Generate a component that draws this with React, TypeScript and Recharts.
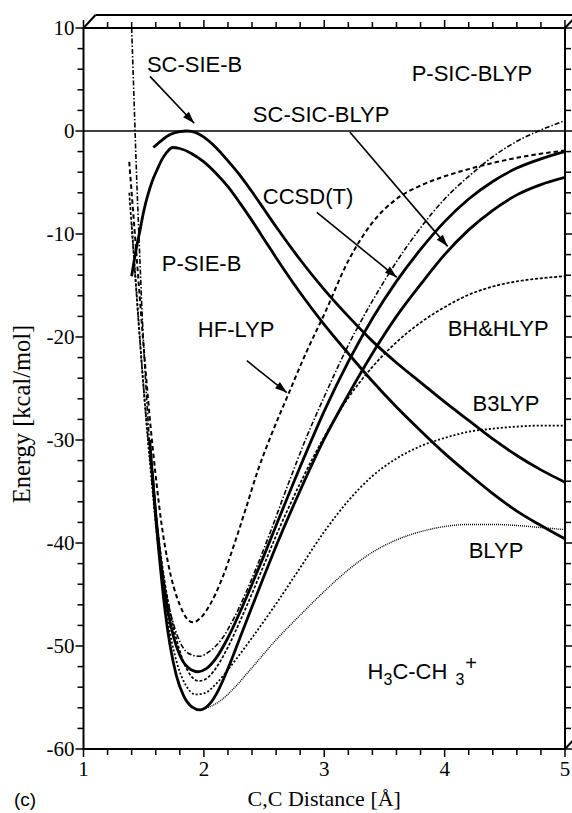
import React from 'react';
import { ComposedChart, Line, XAxis, YAxis, ReferenceLine, Scatter } from 'recharts';

type Pt = [number, number];

// Potential energy curves: [C,C distance (Å), energy (kcal/mol)]
const scSieB: Pt[] = [
  [1.58, -1.6], [1.65, -0.9], [1.72, -0.35], [1.8, -0.05], [1.86, 0], [1.93, -0.15], [2.0, -0.6],
  [2.1, -1.6], [2.2, -2.9], [2.3, -4.3], [2.4, -5.9], [2.5, -7.6], [2.6, -9.3], [2.8, -12.5],
  [3.0, -15.4], [3.2, -18.0], [3.4, -20.4], [3.6, -22.5], [3.8, -24.4], [4.0, -26.3], [4.2, -28.1],
  [4.4, -29.9], [4.6, -31.5], [4.8, -32.9], [5.0, -34.1],
];

const pSieB: Pt[] = [
  [1.4, -14.1], [1.44, -11.3], [1.47, -9.6], [1.5, -7.8], [1.53, -6.4], [1.57, -4.9], [1.61, -3.8],
  [1.65, -2.8], [1.69, -2.1], [1.74, -1.6], [1.8, -1.7], [1.9, -2.2], [2.0, -3.0], [2.1, -4.1],
  [2.2, -5.4], [2.3, -7.0], [2.4, -8.7], [2.5, -10.5], [2.6, -12.3], [2.8, -15.7], [3.0, -18.8],
  [3.2, -21.6], [3.4, -24.3], [3.6, -26.8], [3.8, -29.1], [4.0, -31.3], [4.2, -33.3], [4.4, -35.2],
  [4.6, -36.9], [4.8, -38.3], [5.0, -39.6],
];

const ccsdT: Pt[] = [
  [1.55, -30], [1.58, -34.5], [1.62, -39.5], [1.66, -43.5], [1.7, -46.5], [1.75, -49.2], [1.8, -50.9],
  [1.87, -52.1], [1.95, -52.5], [2.02, -52.2], [2.1, -51.2], [2.2, -49.2], [2.3, -46.7], [2.4, -44.0],
  [2.5, -41.2], [2.6, -38.3], [2.8, -32.6], [3.0, -27.2], [3.2, -22.4], [3.4, -18.2], [3.6, -14.6],
  [3.8, -11.5], [4.0, -8.8], [4.2, -6.6], [4.4, -4.9], [4.6, -3.6], [4.8, -2.7], [5.0, -2.0],
];

const scSicBlyp: Pt[] = [
  [1.57, -33], [1.6, -37.5], [1.64, -42.5], [1.68, -46.8], [1.72, -50], [1.77, -52.8], [1.83, -54.8],
  [1.9, -55.9], [1.97, -56.2], [2.05, -55.6], [2.12, -54.3], [2.2, -52.2], [2.3, -49.2], [2.4, -46.2],
  [2.5, -43.2], [2.6, -40.3], [2.8, -34.9], [3.0, -29.9], [3.2, -25.6], [3.4, -21.6], [3.6, -18.0],
  [3.8, -14.9], [4.0, -12.0], [4.2, -9.6], [4.4, -7.7], [4.6, -6.2], [4.8, -5.2], [5.0, -4.5],
];

const pSicBlyp: Pt[] = [
  [1.4, 10], [1.42, 3], [1.44, -4], [1.46, -10], [1.49, -18.5], [1.53, -27], [1.58, -35], [1.64, -41.5],
  [1.7, -45.6], [1.78, -49], [1.87, -50.7], [1.96, -51], [2.05, -50.5], [2.15, -49.3], [2.25, -47.3],
  [2.35, -44.8], [2.45, -42], [2.55, -39], [2.7, -34.3], [2.85, -29.8], [3.0, -25.8], [3.2, -20.8],
  [3.4, -16.5], [3.6, -12.7], [3.8, -9.4], [4.0, -6.6], [4.2, -4.4], [4.4, -2.5], [4.6, -1.0],
  [4.8, 0.1], [5.0, 1.0],
];

const hfLyp: Pt[] = [
  [1.38, -3], [1.42, -9], [1.46, -15], [1.5, -21], [1.55, -27.8], [1.6, -33.5], [1.65, -38.3],
  [1.7, -41.8], [1.75, -44.3], [1.8, -46], [1.85, -47.2], [1.91, -47.7], [1.97, -47.3], [2.05, -46],
  [2.15, -43.5], [2.25, -40.2], [2.35, -36.6], [2.45, -32.9], [2.55, -29.8], [2.7, -25.6],
  [2.85, -21.5], [3.0, -17.8], [3.2, -12.6], [3.4, -8.9], [3.6, -6.6], [3.8, -5.3], [4.0, -4.4],
  [4.2, -3.7], [4.4, -3.1], [4.6, -2.6], [4.8, -2.2], [5.0, -1.9],
];

const bhhLyp: Pt[] = [
  [1.38, -6], [1.42, -12.5], [1.46, -19], [1.5, -25], [1.55, -31.5], [1.6, -37], [1.65, -41.8],
  [1.7, -45.5], [1.76, -48.8], [1.83, -51.5], [1.9, -53], [1.96, -53.4], [2.04, -53], [2.12, -51.8],
  [2.2, -50.1], [2.3, -47.6], [2.4, -44.9], [2.5, -42.1], [2.6, -39.3], [2.8, -34.2], [3.0, -29.7],
  [3.2, -25.9], [3.4, -22.9], [3.6, -20.5], [3.8, -18.6], [4.0, -17.1], [4.2, -15.9], [4.4, -15.1],
  [4.6, -14.6], [4.8, -14.3], [5.0, -14.1],
];

const b3Lyp: Pt[] = [
  [1.4, -9], [1.44, -15.5], [1.48, -22], [1.52, -28], [1.57, -34.5], [1.62, -40.3], [1.67, -45],
  [1.72, -48.8], [1.78, -51.8], [1.85, -53.8], [1.93, -54.7], [2.0, -54.6], [2.1, -53.7], [2.2, -52.3],
  [2.4, -49.2], [2.6, -45.9], [2.8, -42.4], [3.0, -38.9], [3.2, -35.9], [3.4, -33.5], [3.6, -31.8],
  [3.8, -30.6], [4.0, -29.8], [4.2, -29.2], [4.4, -28.9], [4.6, -28.7], [4.8, -28.6], [5.0, -28.6],
];

const bLyp: Pt[] = [
  [1.97, -56.2], [2.05, -55.9], [2.15, -55.2], [2.25, -54.1], [2.4, -52.1], [2.6, -49.4], [2.8, -47.0],
  [3.0, -44.7], [3.2, -42.6], [3.4, -40.9], [3.6, -39.7], [3.8, -38.9], [4.0, -38.4], [4.2, -38.2],
  [4.4, -38.2], [4.6, -38.3], [4.8, -38.5], [5.0, -38.7],
];

// Axis ticks
const xTicks = [1, 1.2, 1.4, 1.6, 1.8, 2, 2.2, 2.4, 2.6, 2.8, 3, 3.2, 3.4, 3.6, 3.8, 4, 4.2, 4.4, 4.6, 4.8, 5];
const yTicks = [
  -60, -58, -56, -54, -52, -50, -48, -46, -44, -42, -40, -38, -36, -34, -32, -30, -28, -26, -24, -22,
  -20, -18, -16, -14, -12, -10, -8, -6, -4, -2, 0, 2, 4, 6, 8, 10,
];

// Curve labels, anchored at their left baseline in data units
const curveLabels = [
  { x: 1.527, e: 5.73, text: 'SC-SIE-B' },
  { x: 3.726, e: 4.85, text: 'P-SIC-BLYP' },
  { x: 2.407, e: 0.87, text: 'SC-SIC-BLYP' },
  { x: 2.49, e: -7.1, text: 'CCSD(T)' },
  { x: 1.651, e: -13.6, text: 'P-SIE-B' },
  { x: 1.95, e: -20.0, text: 'HF-LYP' },
  { x: 4.025, e: -19.9, text: 'BH&HLYP' },
  { x: 4.232, e: -27.2, text: 'B3LYP' },
  { x: 4.2, e: -41.5, text: 'BLYP' },
  { x: 3.36, e: -53.2, text: 'H3C-CH3+' },
];

// Pointer arrows: [tail, head]
const arrowSCSIEB: Pt[] = [[1.552, 5.3], [1.92, 0.75]];
const arrowSCSIC: Pt[] = [[3.212, -0.1], [4.025, -11.2]];
const arrowCCSD: Pt[] = [[2.938, -7.9], [3.602, -14.2]];
const arrowHFLYP: Pt[] = [[2.357, -22.3], [2.689, -25.4]];

const toRows = (pts: Pt[]) => pts.map(([x, e]) => ({ x, e }));

const W = 572;
const H = 813;
const MARGIN = { top: 28, right: 7, bottom: 24, left: 23.5 };
const Y_AXIS_W = 60;
const X_AXIS_H = 40;
const PLOT_L = MARGIN.left + Y_AXIS_W;
const PLOT_R = W - MARGIN.right;
const PLOT_T = MARGIN.top;
const PLOT_B = H - MARGIN.bottom - X_AXIS_H;
const DEPTH_X = 12;
const DEPTH_Y = 13;
const MAJOR_LEN = 8;
const MINOR_LEN = 6;

const SANS = '"Liberation Sans", Arial, Helvetica, sans-serif';
const SERIF = '"Liberation Serif", "Times New Roman", Times, serif';

const series = [
  { key: 'scSieB', pts: scSieB, width: 2.8, dash: undefined as string | undefined },
  { key: 'pSieB', pts: pSieB, width: 2.8, dash: undefined },
  { key: 'ccsdT', pts: ccsdT, width: 2.8, dash: undefined },
  { key: 'scSicBlyp', pts: scSicBlyp, width: 2.8, dash: undefined },
  { key: 'pSicBlyp', pts: pSicBlyp, width: 1.6, dash: '5 2 1.5 2' },
  { key: 'hfLyp', pts: hfLyp, width: 2, dash: '4.5 3' },
  { key: 'bhhLyp', pts: bhhLyp, width: 1.7, dash: '3 1.8' },
  { key: 'b3Lyp', pts: b3Lyp, width: 1.8, dash: '2 2' },
  { key: 'bLyp', pts: bLyp, width: 1.4, dash: '1 1' },
];

const arrows = [arrowSCSIEB, arrowSCSIC, arrowCCSD, arrowHFLYP];

// Bottom tick: outward tick marks on the bottom and top frame edges, label for whole numbers
const XTick = (props: any) => {
  const { x, payload } = props;
  const v = payload.value;
  const major = Math.abs(v - Math.round(v)) < 1e-6;
  const len = major ? MAJOR_LEN : MINOR_LEN;
  return (
    <g>
      <line x1={x} y1={PLOT_B} x2={x} y2={PLOT_B + len} stroke="#000" strokeWidth={1.5} />
      <line x1={x} y1={PLOT_T} x2={x} y2={PLOT_T - len} stroke="#000" strokeWidth={1.5} />
      {major && (
        <text x={x} y={PLOT_B + 27} textAnchor="middle" fontFamily={SERIF} fontSize={21} fill="#000">
          {Math.round(v)}
        </text>
      )}
    </g>
  );
};

// Left tick: outward tick marks on the left and right frame edges, label every 10
const YTick = (props: any) => {
  const { y, payload } = props;
  const v = payload.value;
  const major = v % 10 === 0;
  const len = major ? MAJOR_LEN : MINOR_LEN;
  return (
    <g>
      <line x1={PLOT_L} y1={y} x2={PLOT_L - len} y2={y} stroke="#000" strokeWidth={1.5} />
      <line x1={PLOT_R} y1={y} x2={PLOT_R + len} y2={y} stroke="#000" strokeWidth={1.5} />
      {major && (
        <text x={PLOT_L - 9} y={y} dy={7} textAnchor="end" fontFamily={SERIF} fontSize={21} fill="#000">
          {v}
        </text>
      )}
    </g>
  );
};

const LabelShape = (props: any) => {
  const { cx, cy, payload } = props;
  if (payload.text === 'H3C-CH3+') {
    return (
      <text x={cx} y={cy} fontFamily={SANS} fontSize={22} fill="#000">
        <tspan>H</tspan>
        <tspan dy={6} fontSize={16}>3</tspan>
        <tspan dy={-6}>C-CH</tspan>
        <tspan dx={8} dy={6} fontSize={16}>3</tspan>
        <tspan dx={1} dy={-15} fontSize={20}>+</tspan>
      </text>
    );
  }
  return (
    <text x={cx} y={cy} fontFamily={SANS} fontSize={22} fill="#000">
      {payload.text}
    </text>
  );
};

export default function App() {
  return (
    <div style={{ position: 'absolute', left: 0, top: 0, width: W, height: H, background: '#fff' }}>
      <ComposedChart width={W} height={H} margin={MARGIN}>
        <defs>
          <marker
            id="arrowHead"
            viewBox="0 0 12 8"
            refX="12"
            refY="4"
            markerWidth="13"
            markerHeight="8"
            markerUnits="userSpaceOnUse"
            orient="auto"
          >
            <path d="M0,0 L12,4 L0,8 z" fill="#000" />
          </marker>
        </defs>

        <XAxis
          type="number"
          dataKey="x"
          domain={[1, 5]}
          ticks={xTicks}
          interval={0}
          allowDataOverflow
          height={X_AXIS_H}
          axisLine={false}
          tickLine={false}
          tick={<XTick />}
        />
        <YAxis
          type="number"
          domain={[-60, 10]}
          ticks={yTicks}
          interval={0}
          allowDataOverflow
          width={Y_AXIS_W}
          axisLine={false}
          tickLine={false}
          tick={<YTick />}
        />

        {/* plot frame and receding box edges */}
        <g stroke="#000" strokeWidth={2} fill="none">
          <rect x={PLOT_L} y={PLOT_T} width={PLOT_R - PLOT_L} height={PLOT_B - PLOT_T} />
          <line x1={PLOT_L} y1={PLOT_T} x2={PLOT_L + DEPTH_X} y2={PLOT_T - DEPTH_Y} />
          <line x1={PLOT_L + DEPTH_X} y1={PLOT_T - DEPTH_Y} x2={PLOT_R + DEPTH_X} y2={PLOT_T - DEPTH_Y} />
          <line x1={PLOT_R} y1={PLOT_T} x2={PLOT_R + DEPTH_X} y2={PLOT_T - DEPTH_Y} />
          <line x1={PLOT_R} y1={PLOT_B} x2={PLOT_R + DEPTH_X} y2={PLOT_B - DEPTH_Y} />
        </g>

        <ReferenceLine y={0} stroke="#000" strokeWidth={1.5} />

        {series.map((s) => (
          <Line
            key={s.key}
            data={toRows(s.pts)}
            dataKey="e"
            type="monotone"
            stroke="#000"
            strokeWidth={s.width}
            strokeDasharray={s.dash}
            dot={false}
            activeDot={false}
            isAnimationActive={false}
          />
        ))}

        {arrows.map((a, i) => (
          <Line
            key={`arrow-${i}`}
            data={toRows(a)}
            dataKey="e"
            type="linear"
            stroke="#000"
            strokeWidth={1.6}
            markerEnd="url(#arrowHead)"
            dot={false}
            activeDot={false}
            isAnimationActive={false}
          />
        ))}

        <Scatter data={curveLabels} dataKey="e" shape={<LabelShape />} isAnimationActive={false} />

        <text
          x={(PLOT_L + PLOT_R) / 2}
          y={806}
          textAnchor="middle"
          fontFamily={SERIF}
          fontSize={22}
          fill="#000"
        >
          C,C Distance [Å]
        </text>
        <text
          transform="translate(30, 414) rotate(-90)"
          textAnchor="middle"
          fontFamily={SERIF}
          fontSize={24.5}
          fill="#000"
        >
          Energy [kcal/mol]
        </text>
        <text x={14} y={806} fontFamily={SANS} fontSize={19} fill="#000">
          (c)
        </text>
      </ComposedChart>
    </div>
  );
}
